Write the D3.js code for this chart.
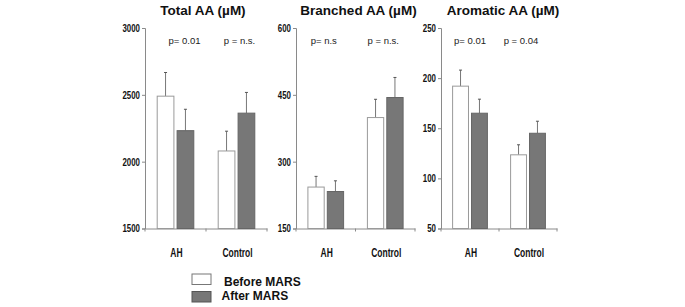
<!DOCTYPE html>
<html><head><meta charset="utf-8">
<script src="https://cdn.jsdelivr.net/npm/d3@7"></script>
<style>body{margin:0;background:#fff}svg{display:block}</style>
</head><body>
<svg id="c" width="685" height="307"></svg>
<script>
const categories = ["AH", "Control"];
const series = ["Before MARS", "After MARS"];
const titles = ["Total AA (\u00B5M)", "Branched AA (\u00B5M)", "Aromatic AA (\u00B5M)"];
const totalBefore = [2490, 2080];
const totalAfter = [2232, 2363];
const totalBeforeSE = [177, 148];
const totalAfterSE = [160, 155];
const branchedBefore = [243, 399];
const branchedAfter = [233, 444];
const branchedBeforeSE = [24, 41];
const branchedAfterSE = [24, 45];
const aromaticBefore = [192, 123.5];
const aromaticAfter = [165, 145];
const aromaticBeforeSE = [16, 10];
const aromaticAfterSE = [14, 12];
const totalTicks = [1500, 2000, 2500, 3000];
const branchedTicks = [150, 300, 450, 600];
const aromaticTicks = [50, 100, 150, 200, 250];
const totalP = ["p= 0.01", "p = n.s."];
const branchedP = ["p= n.s", "p = n.s."];
const aromaticP = ["p= 0.01", "p = 0.04"];

const panels = [
  {title: titles[0], before: totalBefore, after: totalAfter, bse: totalBeforeSE, ase: totalAfterSE, ticks: totalTicks, p: totalP, x0: 145, x1: 267, tdx: -3, pdx: [9, 3]},
  {title: titles[1], before: branchedBefore, after: branchedAfter, bse: branchedBeforeSE, ase: branchedAfterSE, ticks: branchedTicks, p: branchedP, x0: 296, x1: 415, tdx: 3, pdx: [-2, -2]},
  {title: titles[2], before: aromaticBefore, after: aromaticAfter, bse: aromaticBeforeSE, ase: aromaticAfterSE, ticks: aromaticTicks, p: aromaticP, x0: 441, x1: 557, tdx: 4, pdx: [0, -7]}
];
const fills = ["#ffffff", "#777777"];
const svg = d3.select("#c");
const yTop = 28, yBot = 228.5;
const sans = "'Liberation Sans',Arial,sans-serif";

panels.forEach(p => {
  const g = svg.append("g");
  const y = d3.scaleLinear().domain([p.ticks[0], p.ticks[p.ticks.length - 1]]).range([yBot, yTop]);
  const x = d3.scaleBand().domain(categories).range([p.x0, p.x1]);
  const gw = x.bandwidth() * 0.6;
  const xs = d3.scaleBand().domain(series).range([0, gw]).paddingInner(0.16);

  // y axis
  const ya = g.append("g").attr("transform", `translate(${p.x0},0)`)
    .call(d3.axisLeft(y).tickValues(p.ticks).tickSize(3).tickPadding(3).tickFormat(d3.format("d")));
  ya.select(".domain").attr("stroke", "#8a8a8a");
  ya.selectAll(".tick line").attr("stroke", "#8a8a8a");
  ya.selectAll("text").attr("x", 0).attr("transform", "translate(-5,0) scale(0.75,1)")
    .attr("font-family", sans).attr("font-weight", "bold").attr("font-size", 10.5).attr("fill", "#111");

  // x axis
  const xa = g.append("g").attr("transform", `translate(0,${yBot})`)
    .call(d3.axisBottom(x).tickSize(0).tickFormat(""));
  xa.select(".domain").attr("stroke", "#8a8a8a");
  const bounds = [p.x0, p.x0 + x.bandwidth(), p.x1];
  g.selectAll(".xt").data(bounds).join("line")
    .attr("x1", d => d).attr("x2", d => d).attr("y1", yBot).attr("y2", yBot + 3)
    .attr("stroke", "#8a8a8a");

  // bars
  categories.forEach((c, i) => {
    const gx = x(c) + (x.bandwidth() - gw) / 2;
    const vals = [p.before[i], p.after[i]];
    const ses = [p.bse[i], p.ase[i]];
    series.forEach((s, j) => {
      const bx = gx + xs(s);
      const cx = bx + xs.bandwidth() / 2;
      g.append("line").attr("x1", cx).attr("x2", cx)
        .attr("y1", y(vals[j])).attr("y2", y(vals[j] + ses[j]))
        .attr("stroke", "#777").attr("stroke-width", 1);
      g.append("line").attr("x1", cx - 1.5).attr("x2", cx + 1.5)
        .attr("y1", y(vals[j] + ses[j])).attr("y2", y(vals[j] + ses[j]))
        .attr("stroke", "#555").attr("stroke-width", 1);
      g.append("rect").attr("x", bx).attr("y", y(vals[j]))
        .attr("width", xs.bandwidth()).attr("height", yBot - y(vals[j]))
        .attr("fill", fills[j]).attr("stroke", j === 0 ? "#9a9a9a" : "#666").attr("stroke-width", 1);
    });
    // p label
    g.append("text").attr("x", x(c) + x.bandwidth() / 2 + p.pdx[i]).attr("y", 43.5)
      .attr("text-anchor", "middle").attr("font-family", sans).attr("font-size", 9.5)
      .attr("fill", "#222").text(p.p[i]);
    // category label
    g.append("text").attr("transform", `translate(${x(c) + x.bandwidth() / 2 + 1},${257}) scale(0.68,1)`)
      .attr("text-anchor", "middle").attr("font-family", sans).attr("font-weight", "bold")
      .attr("font-size", 12.5).attr("fill", "#111").text(c);
  });

  // title
  g.append("text").attr("x", (p.x0 + p.x1) / 2 + p.tdx).attr("y", 15)
    .attr("text-anchor", "middle").attr("font-family", sans).attr("font-weight", "bold")
    .attr("font-size", 13.5).attr("fill", "#111").text(p.title);
});

// legend
const lg = svg.append("g");
series.forEach((s, j) => {
  lg.append("rect").attr("x", 192).attr("y", 274 + j * 17.5).attr("width", 19).attr("height", 10.5)
    .attr("fill", fills[j]).attr("stroke", j === 0 ? "#777" : "#555");
  lg.append("text").attr("x", j === 0 ? 224 : 221.5).attr("y", 286 + j * 13.5)
    .attr("font-family", sans).attr("font-weight", "bold").attr("font-size", 12)
    .attr("fill", "#111").text(s);
});
</script>
</body></html>
